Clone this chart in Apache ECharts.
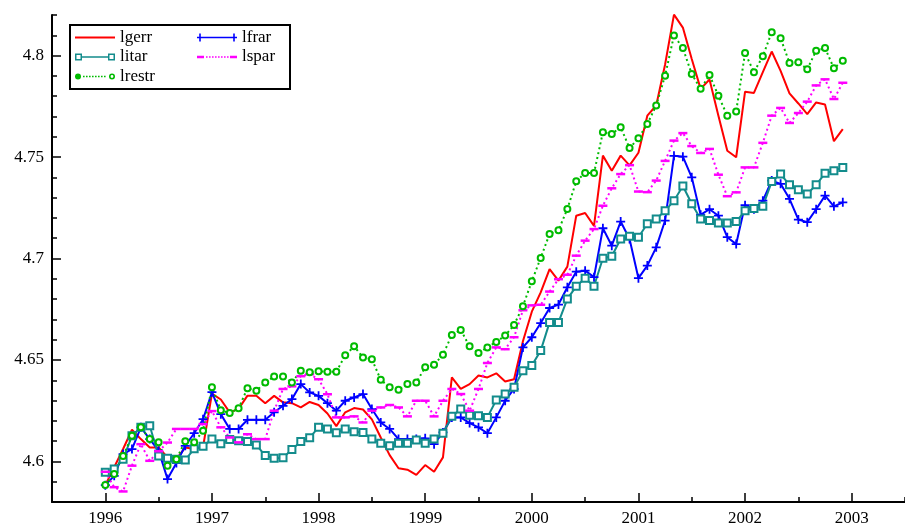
<!DOCTYPE html>
<html>
<head>
<meta charset="utf-8">
<script src="https://cdn.jsdelivr.net/npm/echarts@6/dist/echarts.min.js"></script>
<style>
  html, body { margin: 0; padding: 0; background: #fff; }
  #chart { width: 905px; height: 527px; }
</style>
</head>
<body>
<div id="chart"></div>
<script>
// Monthly log price indices, January 1996 to December 2002
const startYear = 1996;

const lgerr = [
  4.5883, 4.5971, 4.6061, 4.6156, 4.6110, 4.6069, 4.6069, 4.6020, 4.6011, 4.6069, 4.6061, 4.6071,
  4.6334, 4.6305, 4.6242, 4.6259, 4.6324, 4.6324, 4.6287, 4.6323, 4.6291, 4.6287, 4.6266, 4.6293,
  4.6278, 4.6236, 4.6174, 4.6242, 4.6263, 4.6256, 4.6207, 4.6118, 4.6031, 4.5966, 4.5959, 4.5934,
  4.5982, 4.5949, 4.6020, 4.6414, 4.6357, 4.6381, 4.6423, 4.6414, 4.6434, 4.6394, 4.6405, 4.6592,
  4.6738, 4.6833, 4.6948, 4.6891, 4.6960, 4.7211, 4.7224, 4.7161, 4.7507, 4.7433, 4.7507, 4.7459,
  4.7521, 4.7704, 4.7754, 4.7956, 4.8202, 4.8138, 4.7983, 4.7836, 4.7882, 4.7704, 4.7531, 4.7499,
  4.7822, 4.7816, 4.7918, 4.8020, 4.7925, 4.7814, 4.7764, 4.7712, 4.7769, 4.7759, 4.7578, 4.7638
];

const lfrar = [
  4.5883, 4.5929, 4.6036, 4.6061, 4.6168, 4.6110, 4.6053, 4.5913, 4.5992, 4.6077, 4.6139, 4.6208,
  4.6341, 4.6233, 4.6160, 4.6160, 4.6205, 4.6205, 4.6205, 4.6242, 4.6274, 4.6307, 4.6381, 4.6340,
  4.6323, 4.6287, 4.6250, 4.6299, 4.6315, 4.6332, 4.6258, 4.6192, 4.6160, 4.6110, 4.6110, 4.6110,
  4.6114, 4.6085, 4.6143, 4.6217, 4.6217, 4.6189, 4.6168, 4.6139, 4.6217, 4.6299, 4.6357, 4.6562,
  4.6612, 4.6682, 4.6756, 4.6773, 4.6858, 4.6935, 4.6940, 4.6908, 4.7149, 4.7063, 4.7182, 4.7096,
  4.6903, 4.6965, 4.7055, 4.7187, 4.7506, 4.7502, 4.7400, 4.7215, 4.7243, 4.7211, 4.7105, 4.7071,
  4.7263, 4.7243, 4.7285, 4.7384, 4.7368, 4.7294, 4.7192, 4.7179, 4.7243, 4.7310, 4.7257, 4.7277
];

const litar = [
  4.5946, 4.5963, 4.6011, 4.6126, 4.6168, 4.6176, 4.6027, 4.6015, 4.6011, 4.6007, 4.6062, 4.6075,
  4.6110, 4.6087, 4.6108, 4.6102, 4.6098, 4.6081, 4.6029, 4.6015, 4.6018, 4.6059, 4.6098, 4.6117,
  4.6168, 4.6160, 4.6141, 4.6160, 4.6146, 4.6143, 4.6110, 4.6089, 4.6077, 4.6090, 4.6090, 4.6105,
  4.6089, 4.6110, 4.6139, 4.6222, 4.6258, 4.6228, 4.6225, 4.6217, 4.6303, 4.6332, 4.6365, 4.6447,
  4.6473, 4.6546, 4.6685, 4.6685, 4.6801, 4.6863, 4.6903, 4.6863, 4.7001, 4.7011, 4.7096, 4.7110,
  4.7105, 4.7171, 4.7195, 4.7235, 4.7285, 4.7357, 4.7270, 4.7195, 4.7187, 4.7175, 4.7175, 4.7182,
  4.7235, 4.7247, 4.7257, 4.7379, 4.7416, 4.7363, 4.7339, 4.7318, 4.7363, 4.7420, 4.7433, 4.7449
];

const lspar = [
  4.5949, 4.5873, 4.5852, 4.5979, 4.6085, 4.6003, 4.6050, 4.6093, 4.6160, 4.6160, 4.6160, 4.6184,
  4.6248, 4.6168, 4.6118, 4.6094, 4.6134, 4.6110, 4.6110, 4.6250, 4.6357, 4.6370, 4.6420, 4.6430,
  4.6405, 4.6331, 4.6217, 4.6217, 4.6222, 4.6192, 4.6250, 4.6266, 4.6278, 4.6266, 4.6222, 4.6299,
  4.6299, 4.6222, 4.6299, 4.6357, 4.6332, 4.6250, 4.6357, 4.6485, 4.6562, 4.6553, 4.6612, 4.6745,
  4.6769, 4.6772, 4.6837, 4.6898, 4.6920, 4.7014, 4.7088, 4.7145, 4.7260, 4.7346, 4.7416, 4.7460,
  4.7330, 4.7327, 4.7384, 4.7481, 4.7581, 4.7618, 4.7554, 4.7520, 4.7540, 4.7413, 4.7307, 4.7326,
  4.7449, 4.7449, 4.7570, 4.7704, 4.7742, 4.7668, 4.7717, 4.7773, 4.7853, 4.7883, 4.7786, 4.7866
];

const lrestr = [
  4.5884, 4.5938, 4.6027, 4.6126, 4.6168, 4.6110, 4.6094, 4.5979, 4.6011, 4.6100, 4.6094, 4.6151,
  4.6365, 4.6252, 4.6238, 4.6262, 4.6361, 4.6348, 4.6389, 4.6418, 4.6418, 4.6389, 4.6447, 4.6440,
  4.6444, 4.6442, 4.6442, 4.6523, 4.6567, 4.6512, 4.6504, 4.6402, 4.6365, 4.6353, 4.6381, 4.6389,
  4.6464, 4.6476, 4.6526, 4.6623, 4.6648, 4.6567, 4.6534, 4.6562, 4.6589, 4.6620, 4.6672, 4.6765,
  4.6888, 4.7003, 4.7121, 4.7139, 4.7244, 4.7381, 4.7421, 4.7421, 4.7622, 4.7614, 4.7647, 4.7544,
  4.7593, 4.7663, 4.7754, 4.7901, 4.8099, 4.8037, 4.7909, 4.7836, 4.7904, 4.7802, 4.7704, 4.7725,
  4.8013, 4.7918, 4.7997, 4.8115, 4.8085, 4.7964, 4.7967, 4.7933, 4.8024, 4.8037, 4.7937, 4.7975
];

const seriesNames = ['lgerr', 'lfrar', 'litar', 'lspar', 'lrestr'];

// decimal-year position of each monthly observation
const toPairs = (vals) => vals.map((v, i) => [startYear + i / 12, v]);

const FONT = 'Liberation Serif, Times New Roman, serif';

// legend swatches drawn as filled paths inside a 40x10 box;
// two tiny corner specks pin the path bounds to that box
const ANCHOR = 'M0 0L0.01 0L0 0.01Z M40 10L39.99 10L40 9.99Z ';
function hollowSquare(x0) {
  const x1 = x0 + 7, t = 1.5;
  return `M${x0} 1.5L${x1} 1.5L${x1} ${1.5 + t}L${x0} ${1.5 + t}Z ` +
         `M${x0} ${8.5 - t}L${x1} ${8.5 - t}L${x1} 8.5L${x0} 8.5Z ` +
         `M${x0} 1.5L${x0 + t} 1.5L${x0 + t} 8.5L${x0} 8.5Z ` +
         `M${x1 - t} 1.5L${x1} 1.5L${x1} 8.5L${x1 - t} 8.5Z `;
}
function dots(from, to) {
  let p = '';
  for (let x = from; x <= to; x += 3) p += `M${x} 4.2L${x + 1.6} 4.2L${x + 1.6} 5.8L${x} 5.8Z `;
  return p;
}
const icons = {
  lgerr: 'path://' + ANCHOR + 'M0 4L40 4L40 6L0 6Z',
  lfrar: 'path://' + ANCHOR + 'M0 4.2L40 4.2L40 5.8L0 5.8Z M2.2 1L3.8 1L3.8 9L2.2 9Z M36.2 1L37.8 1L37.8 9L36.2 9Z',
  litar: 'path://' + ANCHOR + 'M7 4.2L33 4.2L33 5.8L7 5.8Z ' + hollowSquare(0) + hollowSquare(33),
  lspar: 'path://' + ANCHOR + 'M0 3.8L7 3.8L7 6.2L0 6.2Z M33 3.8L40 3.8L40 6.2L33 6.2Z ' + dots(9, 30),
  lrestr: 'path://' + ANCHOR + 'M0 5A3 3 0 1 0 6 5A3 3 0 1 0 0 5Z ' + dots(8, 30) +
          'M34 5A3 3 0 1 0 40 5A3 3 0 1 0 34 5Z M35.6 5A1.4 1.4 0 1 1 38.4 5A1.4 1.4 0 1 1 35.6 5Z'
};

const PLUS = 'path://M0 4L10 4L10 6L0 6Z M4 0L6 0L6 10L4 10Z';
const DASH = 'path://M0 0L10 0L10 3L0 3Z';

const legendBase = {
  orient: 'vertical',
  top: 29,
  itemWidth: 40,
  itemHeight: 10,
  itemGap: 2.5,
  itemStyle: { borderWidth: 0 },
  selectedMode: false,
  padding: 0,
  textStyle: { fontFamily: FONT, fontSize: 17, color: '#000', lineHeight: 14 }
};

const axisText = { fontFamily: FONT, fontSize: 17, color: '#000' };

const option = {
  animation: false,
  backgroundColor: '#fff',
  grid: { left: 52, right: -7, top: 15, bottom: 23, containLabel: false },
  xAxis: [
    {
      type: 'value', min: 1995.5, max: 2003.5, interval: 0.5, position: 'bottom',
      axisLine: { show: true, onZero: false, lineStyle: { color: '#000', width: 2 } },
      axisTick: { show: true, inside: true, length: 5, lineStyle: { color: '#000', width: 1.5 } },
      axisLabel: { show: false },
      splitLine: { show: false }
    },
    {
      type: 'value', min: 1995.5, max: 2003.5, minInterval: 1, maxInterval: 1, position: 'bottom',
      axisLine: { show: false, onZero: false },
      axisTick: { show: true, inside: true, length: 9, lineStyle: { color: '#000', width: 1.5 } },
      axisLabel: Object.assign({ show: true, showMinLabel: false, showMaxLabel: false, margin: 8,
        formatter: (v) => String(Math.round(v)) }, axisText),
      splitLine: { show: false }
    }
  ],
  yAxis: [
    {
      type: 'value', min: 4.58, max: 4.82, interval: 0.01, position: 'left',
      axisLine: { show: true, onZero: false, lineStyle: { color: '#000', width: 2 } },
      axisTick: { show: true, inside: true, length: 5, lineStyle: { color: '#000', width: 1.5 } },
      axisLabel: { show: false },
      splitLine: { show: false }
    },
    {
      type: 'value', min: 4.58, max: 4.82, minInterval: 0.05, maxInterval: 0.05, position: 'left',
      axisLine: { show: false, onZero: false },
      axisTick: { show: true, inside: true, length: 9, lineStyle: { color: '#000', width: 1.5 } },
      axisLabel: Object.assign({ show: true, showMinLabel: false, showMaxLabel: false, margin: 8,
        formatter: (v) => String(+v.toFixed(2)) }, axisText),
      splitLine: { show: false }
    }
  ],
  legend: [
    Object.assign({}, legendBase, { left: 75, data: ['lgerr', 'litar', 'lrestr'].map(n => ({ name: n, icon: icons[n] })) }),
    Object.assign({}, legendBase, { left: 197, data: ['lfrar', 'lspar'].map(n => ({ name: n, icon: icons[n] })) })
  ],
  graphic: [
    {
      type: 'rect', left: 69, top: 24, z: 10,
      shape: { x: 0, y: 0, width: 220, height: 64 },
      style: { fill: 'transparent', stroke: '#000', lineWidth: 2 }
    }
  ],
  series: [
    {
      name: 'lgerr', type: 'line', data: toPairs(lgerr), showSymbol: false,
      color: '#ff0000', lineStyle: { color: '#ff0000', width: 2 }
    },
    {
      name: 'lfrar', type: 'line', data: toPairs(lfrar), showAllSymbol: true,
      symbol: PLUS, symbolSize: 9,
      color: '#0000ff', itemStyle: { color: '#0000ff' },
      lineStyle: { color: '#0000ff', width: 2 }
    },
    {
      name: 'litar', type: 'line', data: toPairs(litar), showAllSymbol: true,
      symbol: 'emptyRect', symbolSize: 7,
      color: '#138c8c', itemStyle: { color: '#138c8c', borderWidth: 1.8 },
      lineStyle: { color: '#138c8c', width: 2 }
    },
    {
      name: 'lspar', type: 'line', data: toPairs(lspar), showAllSymbol: true,
      symbol: DASH, symbolSize: [9, 2.5],
      color: '#ff00ff', itemStyle: { color: '#ff00ff' },
      lineStyle: { color: '#ff00ff', width: 2, type: [2, 3] }
    },
    {
      name: 'lrestr', type: 'line', data: toPairs(lrestr), showAllSymbol: true,
      symbol: 'emptyCircle', symbolSize: 6,
      color: '#00bb00', itemStyle: { color: '#00bb00', borderWidth: 2 },
      lineStyle: { color: '#00bb00', width: 2, type: [2, 3] }
    }
  ]
};

const chart = echarts.init(document.getElementById('chart'), null, { renderer: 'canvas' });
chart.setOption(option);
</script>
</body>
</html>
